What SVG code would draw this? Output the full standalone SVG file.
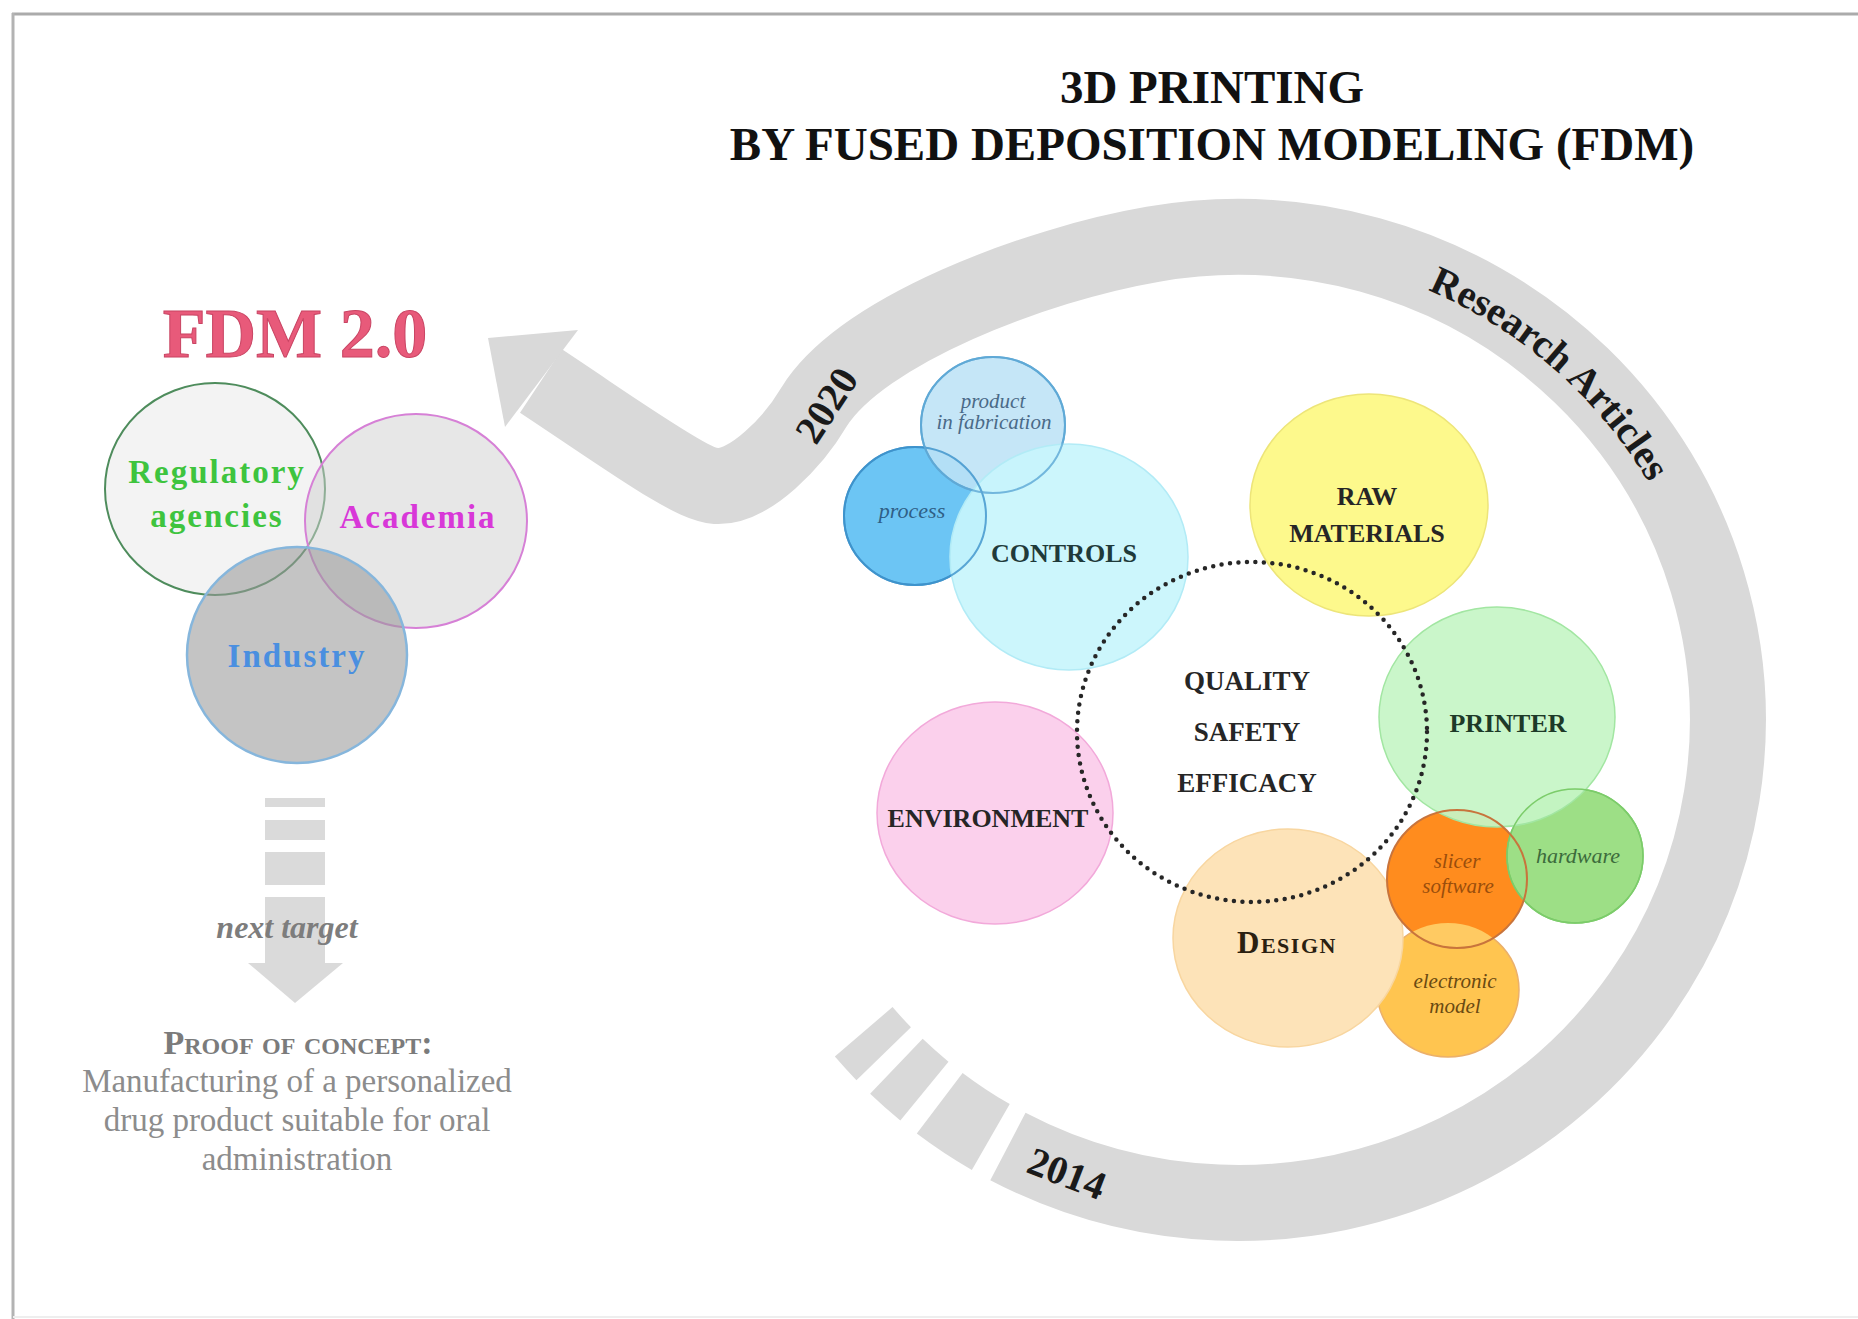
<svg xmlns="http://www.w3.org/2000/svg" xmlns:xlink="http://www.w3.org/1999/xlink" width="1858" height="1319" viewBox="0 0 1858 1319">
<style>
  text{font-family:"Liberation Serif","Times New Roman",serif}
  .b{font-weight:bold}
  .i{font-style:italic}
  .mid{text-anchor:middle}
  .band{fill:none;stroke:#d9d9d9;stroke-width:76;stroke-linecap:butt}
  .gray{fill:#d9d9d9}
  .lbl{font-weight:bold;fill:#262626}
</style>
<defs>
  <path id="raPath" d="M1238,251 A476,469 0 0 1 1714,720"/>
  <clipPath id="slicerClip"><ellipse cx="1457" cy="879" rx="70" ry="69"/></clipPath>
</defs>
<rect x="0" y="0" width="1858" height="1319" fill="#ffffff"/>
<g id="frame">
  <line x1="12" y1="14" x2="1858" y2="14" stroke="#ababab" stroke-width="3"/>
  <line x1="13" y1="13" x2="13" y2="1319" stroke="#b3b3b3" stroke-width="3"/>
  <line x1="13" y1="1317" x2="1858" y2="1317" stroke="#eeeeee" stroke-width="2"/>
</g>

<g id="title">
  <text class="b mid" x="1212" y="103" font-size="47" fill="#111">3D PRINTING</text>
  <text class="b mid" x="1212" y="160" font-size="47" fill="#111">BY FUSED DEPOSITION MODELING (FDM)</text>
</g>

<g id="connectors">
  <path class="band" d="M1007.9,1146.5 A490,483 0 1 0 1152.9,244.3 C1035,264.5 861.7,330.5 814,407 C794,441 750,488 716,486 C690,484 630,440 541,381"/>
  <polygon class="gray" points="578,330 488,338 505,427"/>
  <path class="band" d="M990.8,1137 A490,483 0 0 1 939.7,1103.2"/>
  <path class="band" d="M924.4,1091.1 A490,483 0 0 1 896.4,1066.3"/>
  <path class="band" d="M883.7,1053.7 A490,483 0 0 1 863.7,1031.8"/>
  <text class="b" font-size="40" fill="#1a1a1a"><textPath xlink:href="#raPath" startOffset="195">Research Articles</textPath></text>
  <text class="b mid" font-size="40" fill="#1a1a1a" transform="translate(826,405) rotate(-57)" x="0" y="14">2020</text>
  <text class="b mid" font-size="40" fill="#1a1a1a" transform="translate(1067,1173) rotate(21)" x="0" y="14">2014</text>
  <g id="next-arrow" fill="#dadada">
    <rect x="265" y="798" width="60" height="9"/>
    <rect x="265" y="820" width="60" height="20"/>
    <rect x="265" y="852" width="60" height="33"/>
    <rect x="265" y="897" width="60" height="67"/>
    <polygon points="248,963 343,963 295,1003"/>
  </g>
  <text class="b i mid" x="287" y="938" font-size="32" fill="#7d7d7d">next target</text>
</g>

<g id="fdm2">
  <text class="b mid" x="295" y="357" font-size="70" fill="#e85a7a" stroke="#c94463" stroke-width="1">FDM 2.0</text>
</g>

<g id="regulatory">
  <ellipse cx="215" cy="489" rx="110" ry="106" fill="#ebebeb" fill-opacity="0.6" stroke="#4e8c5c" stroke-width="2"/>
</g>
<g id="academia">
  <ellipse cx="416" cy="521" rx="111" ry="107" fill="#d0d0d0" fill-opacity="0.5" stroke="#d680d6" stroke-width="2"/>
</g>
<g id="industry">
  <ellipse cx="297" cy="655" rx="110" ry="108" fill="#9a9a9a" fill-opacity="0.58" stroke="#86b6dc" stroke-width="2.5"/>
</g>
<g id="venn-labels">
  <text class="b mid" x="217" y="483" font-size="33" fill="#3ec43e" letter-spacing="2">Regulatory</text>
  <text class="b mid" x="217" y="527" font-size="33" fill="#3ec43e" letter-spacing="2">agencies</text>
  <text class="b mid" x="418" y="528" font-size="33" fill="#d838d8" letter-spacing="2">Academia</text>
  <text class="b mid" x="297" y="667" font-size="33" fill="#4a8fe0" letter-spacing="2">Industry</text>
</g>

<g id="proof-of-concept">
  <text class="b mid" x="298" y="1054" font-size="34" fill="#7b7b7b" font-variant="small-caps">Proof of concept:</text>
  <text class="mid" x="297" y="1092" font-size="33" fill="#8c8c8c">Manufacturing of a personalized</text>
  <text class="mid" x="297" y="1131" font-size="33" fill="#8c8c8c">drug product suitable for oral</text>
  <text class="mid" x="297" y="1170" font-size="33" fill="#8c8c8c">administration</text>
</g>

<g id="process">
  <ellipse cx="915" cy="516" rx="71" ry="69" fill="#6cc5f4" stroke="#3f93cc" stroke-width="2"/>
</g>
<g id="product-in-fabrication">
  <ellipse cx="993" cy="425" rx="72" ry="68" fill="#bde2f6" fill-opacity="0.88" stroke="#5fa9d6" stroke-width="2"/>
</g>
<g id="controls">
  <ellipse cx="1069" cy="557" rx="119" ry="113" fill="#c8f5fc" fill-opacity="0.92" stroke="#b2ebf6" stroke-width="1.5"/>
  <ellipse cx="915" cy="516" rx="71" ry="69" fill="none" stroke="#3f93cc" stroke-width="2" stroke-opacity="0.8"/>
  <ellipse cx="993" cy="425" rx="72" ry="68" fill="none" stroke="#5fa9d6" stroke-width="2" stroke-opacity="0.8"/>
</g>
<g id="raw-materials">
  <ellipse cx="1369" cy="505" rx="119" ry="111" fill="#fdf98c" stroke="#ede579" stroke-width="1.5"/>
</g>
<g id="environment">
  <ellipse cx="995" cy="813" rx="118" ry="111" fill="#fbd0ec" stroke="#f2a9da" stroke-width="1.5"/>
</g>
<g id="electronic-model">
  <ellipse cx="1448" cy="990" rx="71" ry="67" fill="#ffc550" stroke="#ebb06a" stroke-width="1.5"/>
</g>
<g id="design">
  <ellipse cx="1288" cy="938" rx="115" ry="109" fill="#fde3b8" stroke="#f8d6a0" stroke-width="1.5"/>
</g>
<g id="slicer-software">
  <ellipse cx="1457" cy="879" rx="70" ry="69" fill="#ff8c1e"/>
</g>
<g id="hardware">
  <ellipse cx="1575" cy="856" rx="68" ry="67" fill="#9ddf86" stroke="#7ccc6a" stroke-width="1.5"/>
</g>
<g id="printer">
  <ellipse cx="1497" cy="717" rx="118" ry="110" fill="#c6f5c6" fill-opacity="0.93" stroke="#a2e6a2" stroke-width="1.5"/>
</g>
<g id="overlaps">
  <ellipse cx="1448" cy="990" rx="71" ry="67" fill="#ffca62" clip-path="url(#slicerClip)"/>
  <ellipse cx="1575" cy="856" rx="68" ry="67" fill="none" stroke="#7ccc6a" stroke-width="1.5"/>
  <ellipse cx="1457" cy="879" rx="70" ry="69" fill="none" stroke="#c8743c" stroke-width="2"/>
</g>
<g id="quality-safety-efficacy">
  <ellipse cx="1252" cy="732" rx="175" ry="170" fill="none" stroke="#262626" stroke-width="4.5" stroke-dasharray="0 8.5" stroke-linecap="round"/>
  <text class="lbl mid" x="1247" y="690" font-size="27">QUALITY</text>
  <text class="lbl mid" x="1247" y="741" font-size="27">SAFETY</text>
  <text class="lbl mid" x="1247" y="792" font-size="27">EFFICACY</text>
</g>
<g id="circle-labels">
  <text class="i mid" x="912" y="518" font-size="22" fill="#2f5f86">process</text>
  <text class="i mid" x="993" y="408" font-size="21" fill="#4a6a88">product</text>
  <text class="i mid" x="994" y="429" font-size="21" fill="#4a6a88">in fabrication</text>
  <text class="b mid" x="1064" y="562" font-size="26" fill="#1f3a3a">CONTROLS</text>
  <text class="lbl mid" x="1367" y="505" font-size="26">RAW</text>
  <text class="lbl mid" x="1367" y="542" font-size="26">MATERIALS</text>
  <text class="lbl mid" x="988" y="827" font-size="26">ENVIRONMENT</text>
  <text class="b mid" x="1508" y="732" font-size="26" fill="#1d3a28">PRINTER</text>
  <text class="b mid" x="1287" y="953" font-size="31" fill="#2a2010" font-variant="small-caps" letter-spacing="1.5">Design</text>
  <text class="i mid" x="1578" y="863" font-size="22" fill="#3c6b3c">hardware</text>
  <text class="i mid" x="1457" y="868" font-size="21" fill="#9a4e0c">slicer</text>
  <text class="i mid" x="1458" y="893" font-size="21" fill="#9a4e0c">software</text>
  <text class="i mid" x="1455" y="988" font-size="21" fill="#6a4a12">electronic</text>
  <text class="i mid" x="1455" y="1013" font-size="21" fill="#6a4a12">model</text>
</g>
</svg>
